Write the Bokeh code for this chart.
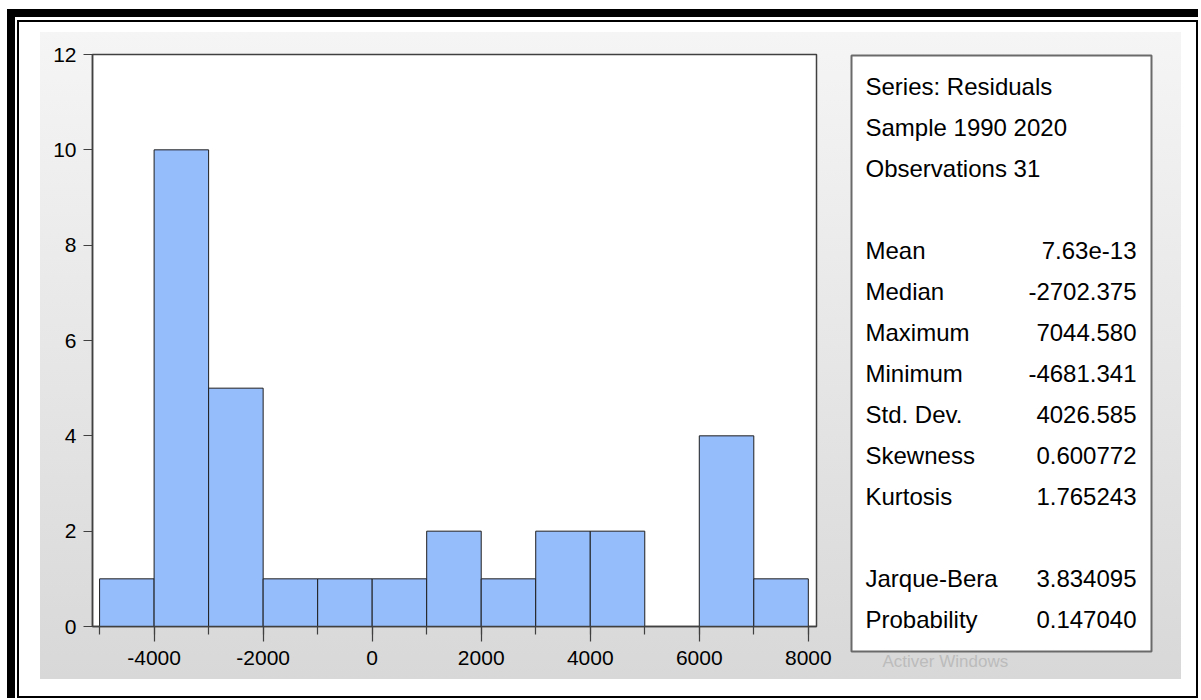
from bokeh.plotting import figure
from bokeh.models import Range1d, FixedTicker, Row, Column
from bokeh.core.properties import value
from bokeh.embed import file_html
from bokeh.resources import INLINE

# ---------------- data ----------------
bin_edges = [-5000, -4000, -3000, -2000, -1000, 0, 1000, 2000, 3000, 4000, 5000, 6000, 7000, 8000]
counts = [1, 10, 5, 1, 1, 1, 2, 1, 2, 2, 0, 4, 1]
x_ticks = [-4000, -2000, 0, 2000, 4000, 6000, 8000]
y_ticks = [0, 2, 4, 6, 8, 10, 12]

header_lines = ["Series: Residuals", "Sample 1990 2020", "Observations 31"]
stat_names = ["Mean", "Median", "Maximum", "Minimum", "Std. Dev.", "Skewness", "Kurtosis"]
stat_values = ["7.63e-13", "-2702.375", "7044.580", "-4681.341", "4026.585", "0.600772", "1.765243"]
test_names = ["Jarque-Bera", "Probability"]
test_values = ["3.834095", "0.147040"]
watermark = ["Activer Windows"]

FONT = "Liberation Sans"
AXIS_COLOR = "#404040"

# ---------------- histogram ----------------
p = figure(width=793, height=647, x_range=Range1d(-5130, 8150), y_range=Range1d(0, 12),
           output_backend="svg", toolbar_location=None,
           min_border_left=52, min_border_right=17, min_border_top=22, min_border_bottom=53)
p.border_fill_color = None
p.background_fill_color = "white"
p.outline_line_color = AXIS_COLOR
p.outline_line_width = 1.5
p.grid.visible = False

p.quad(left=bin_edges[:-1], right=bin_edges[1:], bottom=0, top=counts,
       fill_color="#95bdfc", line_color="#1e1e1e", line_width=1)

xa = p.xaxis[0]
xa.ticker = FixedTicker(ticks=x_ticks, minor_ticks=bin_edges)
xa.major_label_overrides = {t: str(t) for t in x_ticks}
xa.major_tick_out = 15
xa.major_tick_in = 0
xa.minor_tick_out = 8
xa.minor_tick_in = 0
xa.major_label_standoff = 9

ya = p.yaxis[0]
ya.ticker = FixedTicker(ticks=y_ticks)
ya.major_label_overrides = {t: str(t) for t in y_ticks}
ya.major_tick_out = 9
ya.major_tick_in = 0
ya.major_label_standoff = 7

for ax in (xa, ya):
    ax.axis_line_color = AXIS_COLOR
    ax.axis_line_width = 1.5
    ax.major_tick_line_color = AXIS_COLOR
    ax.major_tick_line_width = 1.2
    ax.minor_tick_line_color = AXIS_COLOR if ax is xa else None
    ax.minor_tick_line_width = 1.2
    ax.major_label_text_font = FONT
    ax.major_label_text_font_size = "21px"
    ax.major_label_text_color = "black"

# ---------------- statistics box ----------------
ROW_PX = 41
FIRST_BASE = 31
FRAME_H = 596
s = figure(width=348, height=621, x_range=Range1d(0, 300),
           y_range=Range1d((FRAME_H - FIRST_BASE) / ROW_PX, -FIRST_BASE / ROW_PX),
           output_backend="svg", toolbar_location=None,
           x_axis_location=None, y_axis_location=None,
           min_border_left=18, min_border_right=30, min_border_top=23, min_border_bottom=2)
s.border_fill_color = None
s.background_fill_color = "white"
s.outline_line_color = "#6a6a6a"
s.outline_line_width = 2
s.grid.visible = False

header_rows = list(range(len(header_lines)))
stat_rows = [len(header_lines) + 1 + i for i in range(len(stat_names))]
test_rows = [stat_rows[-1] + 2 + i for i in range(len(test_names))]

left_names = header_lines + stat_names + test_names
left_rows = header_rows + stat_rows + test_rows
right_vals = stat_values + test_values
right_rows = stat_rows + test_rows

s.text(x=[14] * len(left_names), y=left_rows, text=left_names,
       text_font=value(FONT), text_font_size="24px", text_align="left",
       text_baseline="alphabetic", text_color="black")
s.text(x=[285] * len(right_vals), y=right_rows, text=right_vals,
       text_font=value(FONT), text_font_size="24px", text_align="right",
       text_baseline="alphabetic", text_color="black")

# watermark strip below the statistics box
w = figure(width=348, height=26, x_range=Range1d(0, 348), y_range=Range1d(0, 26),
           output_backend="svg", toolbar_location=None,
           x_axis_location=None, y_axis_location=None,
           min_border_left=0, min_border_right=0, min_border_top=0, min_border_bottom=0)
w.border_fill_color = None
w.background_fill_color = None
w.outline_line_color = None
w.grid.visible = False
w.text(x=[36], y=[18], text=watermark, text_font=value(FONT), text_font_size="17px",
       text_color="#bcbcbc", text_align="left", text_baseline="middle")

# ---------------- frame / page layout ----------------
gray = Row(children=[Column(children=[p]), Column(children=[s, w], spacing=0)], spacing=0,
           styles={"background": "linear-gradient(to bottom, #f5f5f5, #d8d8d8)"})
inner = Column(children=[gray],
               styles={"background-color": "white", "border": "2px solid black",
                       "padding": "10px 15px 17px 21px"})
outer = Column(children=[inner], margin=(9, 0, 0, 7),
               styles={"background-color": "white", "border-left": "8px solid black",
                       "border-top": "8px solid black", "padding": "3px 0px 0px 2px"})

open("out.html", "w").write(file_html(outer, INLINE))
